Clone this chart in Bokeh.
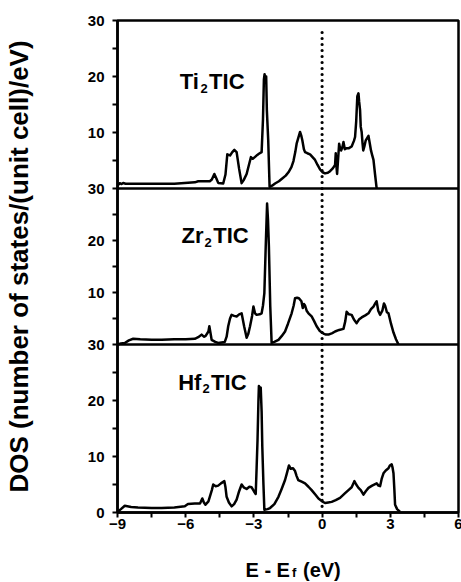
from bokeh.plotting import figure
from bokeh.layouts import column
from bokeh.models import Range1d, FixedTicker, Span, Label
from bokeh.embed import file_html
from bokeh.resources import INLINE

# ---------------- data ----------------
energy_ti = [-9.0, -8.9, -8.82, -8.75, -8.65, -7.5, -6.5, -5.6, -5.45, -4.94, -4.85, -4.74, -4.65, -4.57,
             -4.35, -4.25, -4.17, -4.05, -3.95, -3.86, -3.76, -3.65, -3.54, -3.45, -3.32, -3.2, -3.13,
             -3.05, -2.96, -2.85, -2.78, -2.66, -2.6, -2.56, -2.53, -2.49, -2.46, -2.43, -2.37, -2.31,
             -2.2, -2.07, -1.9, -1.78, -1.6, -1.48, -1.35, -1.26, -1.18, -1.12, -1.05, -0.97, -0.92,
             -0.87, -0.8, -0.75, -0.65, -0.53, -0.42, -0.31, -0.2, -0.09, 0.02, 0.13, 0.25, 0.35, 0.47,
             0.57, 0.6, 0.63, 0.66, 0.7, 0.75, 0.8, 0.84, 0.9, 0.94, 1.0, 1.08, 1.18, 1.3, 1.4, 1.45,
             1.5, 1.55, 1.6, 1.63, 1.67, 1.7, 1.74, 1.78, 1.81, 1.86, 1.92, 1.98, 2.04, 2.1, 2.15, 2.2,
             2.26, 2.33, 2.4]
dos_ti = [0.5, 0.95, 0.8, 1.0, 0.85, 0.85, 0.85, 1.1, 1.3, 1.3, 1.6, 2.6, 1.8, 1.0,
          0.9, 2.5, 6.1, 5.9, 6.5, 6.9, 6.5, 3.5, 0.95, 1.5, 2.6, 4.5, 5.6,
          5.3, 5.6, 6.0, 6.2, 6.5, 12.4, 19.5, 20.4, 19.0, 20.0, 14.0, 8.6, 0.3,
          0.5, 0.9, 1.3, 1.7, 2.3, 2.9, 3.8, 4.9, 6.5, 8.0, 9.0, 10.1, 9.5,
          8.6, 7.0, 6.5, 6.3, 6.1, 5.6, 5.1, 4.2, 3.4, 2.9, 2.7, 2.8, 3.1, 3.6,
          4.2, 6.3, 4.0, 2.6, 5.0, 8.0, 7.0, 6.8, 7.5, 8.3, 7.0, 7.2, 7.2, 7.5, 8.5, 9.2,
          12.0, 16.5, 17.0, 15.5, 14.0, 11.0, 10.1, 8.0, 6.8, 7.5, 8.6, 9.0, 9.4, 8.0, 6.8, 6.0,
          5.1, 2.5, 0.0]

energy_zr = [-9.0, -8.85, -8.68, -8.5, -8.31, -8.0, -7.5, -7.06, -6.5, -6.0, -5.6, -5.45, -5.3, -5.2,
             -5.13, -5.0, -4.96, -4.9, -4.86, -4.7, -4.57, -4.28, -4.2, -4.13, -4.05, -3.98, -3.87,
             -3.76, -3.65, -3.54, -3.43, -3.32, -3.25, -3.17, -3.08, -3.02, -2.95, -2.88, -2.75, -2.66,
             -2.6, -2.54, -2.48, -2.42, -2.38, -2.34, -2.28, -2.22, -2.1, -1.92, -1.78, -1.63, -1.5,
             -1.34, -1.25, -1.19, -1.1, -1.02, -0.91, -0.85, -0.8, -0.75, -0.68, -0.6, -0.46, -0.35,
             -0.24, -0.1, 0.06, 0.17, 0.28, 0.45, 0.57, 0.75, 0.94, 1.02, 1.08, 1.18, 1.3, 1.4, 1.52,
             1.62, 1.74, 1.9, 2.04, 2.15, 2.26, 2.35, 2.4, 2.47, 2.55, 2.65, 2.72, 2.77, 2.85, 2.92,
             3.03, 3.14, 3.25, 3.36]
dos_zr = [0.0, 0.2, 0.3, 0.8, 1.1, 1.0, 0.9, 0.9, 1.0, 1.0, 1.1, 1.4, 1.9, 1.5,
          1.6, 2.5, 3.5, 2.0, 0.9, 0.5, 0.3, 0.5, 1.5, 3.5, 5.0, 5.7, 5.5,
          5.4, 5.8, 6.0, 3.5, 1.3, 2.0, 3.5, 5.5, 7.3, 6.0, 5.7, 5.8, 6.0,
          7.5, 9.9, 18.8, 27.1, 24.0, 18.8, 7.3, 0.3, 0.5, 0.9, 1.6, 2.5, 4.0,
          6.0, 7.5, 8.9, 9.0, 8.9, 8.3, 7.0, 7.8, 7.5, 6.5, 6.0, 5.4, 4.5,
          3.5, 2.6, 2.1, 1.9, 1.9, 2.2, 2.5, 2.8, 3.0, 4.5, 6.3, 5.8, 5.7, 4.8, 4.1,
          4.8, 5.2, 5.6, 6.0, 6.8, 7.3, 8.0, 8.3, 6.5, 5.7, 6.5, 7.9, 7.5, 6.2, 6.0,
          4.0, 2.3, 1.0, 0.0]

energy_hf = [-9.0, -8.85, -8.68, -8.4, -8.1, -7.5, -7.06, -6.5, -6.04, -5.9, -5.6, -5.37, -5.27, -5.2,
             -5.13, -5.0, -4.94, -4.85, -4.79, -4.68, -4.57, -4.45, -4.3, -4.25, -4.2, -4.1, -3.98,
             -3.87, -3.76, -3.65, -3.54, -3.45, -3.32, -3.2, -3.1, -3.0, -2.92, -2.88, -2.84, -2.8,
             -2.78, -2.74, -2.7, -2.66, -2.63, -2.58, -2.54, -2.4, -2.29, -2.1, -1.92, -1.78, -1.63,
             -1.55, -1.46, -1.38, -1.28, -1.19, -1.12, -1.05, -0.9, -0.75, -0.6, -0.46, -0.3, -0.16,
             0.0, 0.13, 0.27, 0.42, 0.6, 0.79, 1.0, 1.16, 1.3, 1.42, 1.5, 1.6, 1.7, 1.82, 1.92, 2.04,
             2.2, 2.4, 2.48, 2.55, 2.62, 2.7, 2.8, 2.92, 2.98, 3.06, 3.1, 3.14, 3.18, 3.21, 3.3, 3.43]
dos_hf = [0.1, 0.6, 1.2, 1.0, 0.9, 0.8, 0.8, 0.9, 1.1, 1.5, 1.6, 1.6, 2.5, 1.8,
          1.4, 2.0, 2.8, 4.0, 5.0, 4.7, 4.8, 5.2, 5.6, 4.5, 2.8, 1.8, 1.1,
          1.5, 2.3, 3.8, 5.0, 4.5, 4.2, 4.6, 4.5, 3.8, 3.3, 8.0, 13.0, 20.0,
          22.6, 22.0, 22.3, 18.0, 11.7, 5.0, 0.5, 0.6, 0.8, 1.5, 2.8, 4.2, 5.8,
          7.0, 8.4, 7.8, 7.9, 7.4, 6.5, 5.8, 5.5, 5.2, 4.6, 4.0, 3.2, 2.5,
          2.0, 1.7, 1.8, 1.9, 2.2, 2.6, 3.4, 4.0, 4.5, 5.6, 5.0, 4.4, 4.0, 3.2, 3.8, 4.4,
          4.8, 5.2, 4.8, 4.7, 6.0, 7.0, 7.5, 7.9, 8.4, 8.6, 8.0, 7.0, 4.0, 1.4, 0.6, 0.1]

compounds = ["Ti", "Zr", "Hf"]
x_ticks = [-9, -6, -3, 0, 3, 6]
x_minor_ticks = [-7.5, -4.5, -1.5, 1.5, 4.5]
y_ticks = [0, 10, 20, 30]
y_minor_ticks = [5, 15, 25]
y_max = 30
fermi_energy = 0
fermi_dots_top = [0, 28.4]
fermi_dots_mid = [0, 30]
fermi_dots_bot = [1.1, 30]

# ---------------- layout ----------------
FONT = "Liberation Sans"
FRAME_W, FRAME_H = 341, 492
BORDER_L, BORDER_R = 116, 4
# (pixel offset from frame bottom, pixel height) of each stacked panel
panels = {"top": (324, 168), "mid": (168, 156), "bot": (0, 168)}

x_range = Range1d(-9, 6)
p = figure(frame_width=FRAME_W, frame_height=FRAME_H,
           x_range=x_range, y_range=Range1d(0, FRAME_H),
           output_backend="svg", toolbar_location=None,
           min_border_left=BORDER_L, min_border_right=BORDER_R, min_border_top=20, min_border_bottom=29)
p.background_fill_color = "white"
p.border_fill_color = "white"
p.outline_line_color = "black"
p.outline_line_width = 2.5
p.xgrid.visible = False
p.ygrid.visible = False

extra = {}
major_pos, minor_pos, overrides = [], [], {}
for name, (off, h) in panels.items():
    scale = h / y_max
    start = -off / scale
    extra[name] = Range1d(start, start + FRAME_H / scale)
    for v in y_ticks:
        pos = int(round(off + v * scale))
        if pos not in major_pos:
            major_pos.append(pos)
        if v != 0 or off == 0:
            overrides[pos] = str(v)
    for v in y_minor_ticks:
        minor_pos.append(int(round(off + v * scale)))
p.extra_y_ranges = extra

# panel boundaries carry the label of the panel above ("30")
for name, (off, h) in panels.items():
    overrides[int(round(off + h))] = str(y_max)

# ---- axes ----
xa = p.xaxis[0]
xa.ticker = FixedTicker(ticks=x_ticks, minor_ticks=x_minor_ticks)
ya = p.yaxis[0]
ya.ticker = FixedTicker(ticks=sorted(major_pos), minor_ticks=minor_pos)
ya.major_label_overrides = overrides

for ax in (xa, ya):
    ax.axis_line_color = "black"
    ax.axis_line_width = 2.5
    ax.major_tick_line_color = "black"
    ax.minor_tick_line_color = "black"
    ax.major_tick_line_width = 2
    ax.minor_tick_line_width = 2
    ax.major_tick_in = 0
    ax.major_tick_out = 5
    ax.minor_tick_in = 0
    ax.minor_tick_out = 5
    ax.major_label_text_font = FONT
    ax.major_label_text_font_style = "bold"
    ax.major_label_text_font_size = "15px"
    ax.major_label_text_color = "black"

xa.major_label_standoff = 1
ya.major_label_standoff = 8
ya.axis_label = "DOS (number of states/(unit cell)/eV)"
ya.axis_label_text_font = FONT
ya.axis_label_text_font_style = "bold"
ya.axis_label_text_font_size = "26px"
ya.axis_label_text_color = "black"
ya.axis_label_standoff = 51

# ---- curves ----
series = {"top": (energy_ti, dos_ti), "mid": (energy_zr, dos_zr), "bot": (energy_hf, dos_hf)}
for name, (e, d) in series.items():
    p.line(e, d, y_range_name=name, line_color="black", line_width=2.5, line_join="round")

# ---- panel separators ----
for name in ("top", "mid"):
    p.add_layout(Span(location=0, dimension="width", y_range_name=name,
                      line_color="black", line_width=2.5))

# ---- Fermi level (dotted) ----
for name, ext in (("top", fermi_dots_top), ("mid", fermi_dots_mid), ("bot", fermi_dots_bot)):
    p.line([fermi_energy, fermi_energy], ext, y_range_name=name,
           line_color="black", line_width=3.2, line_dash="0 6", line_cap="round")

# ---- panel labels (M2TIC with subscript 2) ----
label_pos = {"top": (-6.26, 19.1), "mid": (-6.18, 20.9), "bot": (-6.33, 23.3)}
metal_width = {"Ti": 19.6, "Zr": 22.0, "Hf": 23.2}
for name, metal in zip(("top", "mid", "bot"), compounds):
    lx, ly = label_pos[name]
    common = dict(x=lx, y=ly, y_range_name=name, text_font=FONT, text_font_style="bold",
                  text_color="black", text_baseline="middle", text_align="left")
    w = metal_width[metal]
    p.add_layout(Label(text=metal, text_font_size="22px", **common))
    p.add_layout(Label(text="2", text_font_size="13px", x_offset=w + 1, y_offset=-6.5, **common))
    p.add_layout(Label(text="TIC", text_font_size="22px", x_offset=w + 9.7, **common))

# ---- x axis label "E - Ef (eV)" in a strip below the plot ----
STRIP_H = 40
strip = figure(frame_width=FRAME_W, frame_height=STRIP_H, x_range=x_range, y_range=Range1d(0, STRIP_H),
               x_axis_type=None, y_axis_type=None, output_backend="svg", toolbar_location=None,
               min_border_left=BORDER_L, min_border_right=BORDER_R, min_border_top=0, min_border_bottom=0)
strip.outline_line_color = None
strip.xgrid.visible = False
strip.ygrid.visible = False
strip.background_fill_color = "white"
strip.border_fill_color = "white"

xl_x, xl_y = -3.37, 12
xl_common = dict(x=xl_x, y=xl_y, text_font=FONT, text_font_style="bold", text_color="black",
                 text_baseline="middle", text_align="left")
strip.add_layout(Label(text="E - E", text_font_size="20px", **xl_common))
strip.add_layout(Label(x_offset=46.5, y_offset=-2.5, text="f", text_font_size="13px", **xl_common))
strip.add_layout(Label(x_offset=57.5, text="(eV)", text_font_size="20px", **xl_common))

layout = column(p, strip, spacing=0)
open("out.html", "w").write(file_html(layout, INLINE))
